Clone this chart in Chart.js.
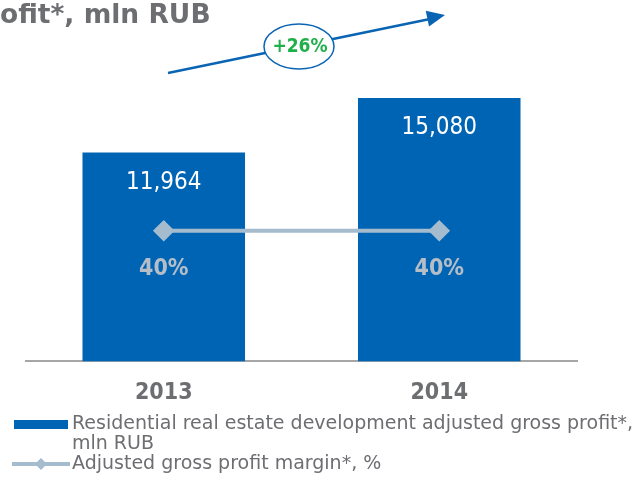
<!DOCTYPE html>
<html>
<head>
<meta charset="utf-8">
<script src="https://cdn.jsdelivr.net/npm/chart.js@4"></script>
<style>
  html, body { margin: 0; padding: 0; background: #fff; }
  #wrap { width: 639px; height: 482px; position: relative; }
</style>
</head>
<body>
<div id="wrap"><canvas id="grafico"></canvas></div>
<script>
// dados
var anos = ['2013', '2014'];
var lucroBruto = [11964, 15080];
var margem = [40, 40];
var rotuloBarras = 'Residential real estate development adjusted gross profit*, mln RUB';
var rotuloLinha = 'Adjusted gross profit margin*, %';
var titulo = 'ofit*, mln RUB';
var crescimento = '+26%';

var corBarra = '#0064b4';
var corLinha = '#a5bccf';
var corTexto = '#6d6e71';
var fonte = '"DejaVu Sans Condensed", "DejaVu Sans", sans-serif';
var fonteLarga = '"DejaVu Sans", sans-serif';

// desenha titulo, seta, rotulos e legenda
var extras = {
    id: 'extras',
    afterDatasetsDraw: function (chart) {
        var ctx = chart.ctx;
        ctx.save();

        // titulo (cortado como no original)
        ctx.fillStyle = corTexto;
        ctx.font = 'bold 26.5px ' + fonteLarga;
        ctx.textAlign = 'left';
        ctx.textBaseline = 'alphabetic';
        ctx.fillText(titulo, 0, 23);

        // seta de crescimento
        ctx.strokeStyle = '#0a64b4';
        ctx.fillStyle = '#0a64b4';
        ctx.lineWidth = 2.5;
        ctx.beginPath();
        ctx.moveTo(168, 73);
        ctx.lineTo(430, 19);
        ctx.stroke();
        var ang = Math.atan2(15 - 73, 445 - 168);
        ctx.beginPath();
        ctx.moveTo(445, 15);
        ctx.lineTo(445 - 18 * Math.cos(ang) + 8 * Math.sin(ang), 15 - 18 * Math.sin(ang) - 8 * Math.cos(ang));
        ctx.lineTo(445 - 18 * Math.cos(ang) - 8 * Math.sin(ang), 15 - 18 * Math.sin(ang) + 8 * Math.cos(ang));
        ctx.closePath();
        ctx.fill();

        // elipse com +26%
        ctx.beginPath();
        ctx.ellipse(299, 46.5, 35, 22.5, 0, 0, Math.PI * 2);
        ctx.fillStyle = '#fff';
        ctx.fill();
        ctx.lineWidth = 1.5;
        ctx.stroke();
        ctx.fillStyle = '#1fb04a';
        ctx.font = 'bold 19px ' + fonte;
        ctx.textAlign = 'center';
        ctx.textBaseline = 'middle';
        ctx.fillText(crescimento, 300, 47);

        // valores nas barras
        var metaBarras = chart.getDatasetMeta(1);
        ctx.fillStyle = '#fff';
        ctx.font = '24px ' + fonte;
        metaBarras.data.forEach(function (bar, i) {
            ctx.fillText(lucroBruto[i].toLocaleString('en-US'), bar.x, bar.y + 30);
        });

        // margens
        var metaLinha = chart.getDatasetMeta(0);
        ctx.fillStyle = '#b5bec7';
        ctx.font = 'bold 23px ' + fonte;
        metaLinha.data.forEach(function (p, i) {
            ctx.fillText(margem[i] + '%', p.x, p.y + 38);
        });

        // legenda
        ctx.fillStyle = corBarra;
        ctx.fillRect(14, 420, 54, 9);
        ctx.strokeStyle = corLinha;
        ctx.lineWidth = 4;
        ctx.beginPath();
        ctx.moveTo(12, 464);
        ctx.lineTo(70, 464);
        ctx.stroke();
        ctx.fillStyle = corLinha;
        ctx.beginPath();
        ctx.moveTo(41, 458);
        ctx.lineTo(47, 464);
        ctx.lineTo(41, 470);
        ctx.lineTo(35, 464);
        ctx.closePath();
        ctx.fill();

        ctx.fillStyle = corTexto;
        ctx.font = '19px ' + fonteLarga;
        ctx.textAlign = 'left';
        ctx.textBaseline = 'middle';
        var palavras = rotuloBarras.split(' ');
        var linhas = [];
        var atual = '';
        palavras.forEach(function (w) {
            var teste = atual ? atual + ' ' + w : w;
            if (ctx.measureText(teste).width > 566 && atual) {
                linhas.push(atual);
                atual = w;
            } else {
                atual = teste;
            }
        });
        linhas.push(atual);
        linhas.forEach(function (l, i) {
            ctx.fillText(l, 72, 424 + i * 20);
        });
        ctx.fillText(rotuloLinha, 72, 464);

        ctx.restore();
    }
};

var contexto = document.getElementById('grafico').getContext('2d');
var meuGrafico = new Chart(contexto, {
    data: {
        labels: anos,
        datasets: [{
            type: 'line',
            label: rotuloLinha,
            data: margem,
            yAxisID: 'y2',
            borderColor: corLinha,
            backgroundColor: corLinha,
            borderWidth: 4,
            pointStyle: 'rectRot',
            pointRadius: 8,
            pointHoverRadius: 8,
            order: 0,
        }, {
            type: 'bar',
            label: rotuloBarras,
            data: lucroBruto,
            yAxisID: 'y',
            backgroundColor: corBarra,
            barPercentage: 0.59,
            categoryPercentage: 1,
            order: 1,
        }],
    },
    options: {
        responsive: true,
        maintainAspectRatio: false,
        animation: false,
        layout: { padding: { left: 26, right: 62, top: 12, bottom: 65 } },
        plugins: {
            legend: { display: false },
            title: { display: false },
            tooltip: { enabled: false },
        },
        scales: {
            x: {
                offset: true,
                grid: { display: false },
                border: { display: true, color: '#a6a6a6', width: 2 },
                ticks: {
                    color: corTexto,
                    font: { family: fonte, size: 23, weight: 'bold' },
                    padding: 10,
                },
            },
            y: {
                display: false,
                min: 0,
                max: 20000,
            },
            y2: {
                display: false,
                min: 0,
                max: 107,
            },
        },
    },
    plugins: [extras],
});
</script>
</body>
</html>
